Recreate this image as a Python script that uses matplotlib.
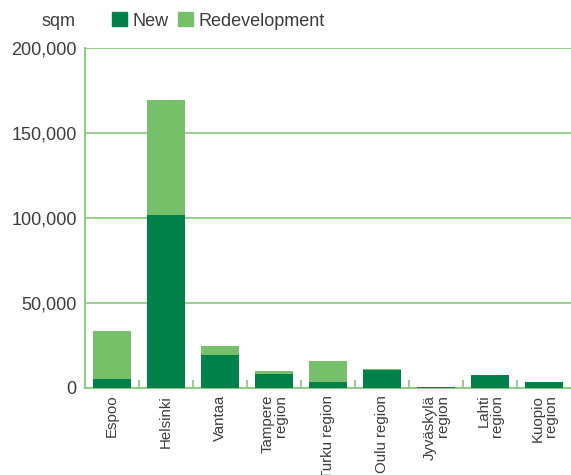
import matplotlib
matplotlib.use("Agg")
import matplotlib.pyplot as plt
from matplotlib.patches import Patch
import numpy as np

plt.rcParams['font.family'] = ['Liberation Sans', 'DejaVu Sans']

categories = ["Espoo", "Helsinki", "Vantaa", "Tampere\nregion", "Turku region",
              "Oulu region", "Jyväskylä\nregion", "Lahti\nregion", "Kuopio\nregion"]
new_sqm = [5500, 102000, 19300, 8200, 3500, 10600, 500, 7500, 3500]
redevelopment_sqm = [28200, 67500, 5400, 1800, 12400, 500, 0, 400, 0]
y_ticks = [0, 50000, 100000, 150000, 200000]

dark_green = "#00814A"
light_green = "#76C069"
grid_green = "#8FCD85"
text_color = "#3C3C3C"

fig = plt.figure(figsize=(5.71, 4.75), dpi=100)
ax = fig.add_axes([85 / 571, 1 - 388 / 475, 486 / 571, 340 / 475])

x = np.arange(len(categories))
ax.bar(x, new_sqm, width=0.72, color=dark_green, zorder=3)
ax.bar(x, redevelopment_sqm, width=0.72, bottom=new_sqm, color=light_green, zorder=3)

ax.set_xlim(-0.5, len(categories) - 0.5)
ax.set_ylim(0, 200000)
ax.set_yticks(y_ticks)
ax.set_yticklabels([f"{v:,}" for v in y_ticks], fontsize=13, color=text_color)
ax.tick_params(axis='y', length=0, pad=6)
ax.yaxis.grid(True, color=grid_green, linewidth=1.3, zorder=1)

# category boundaries as short inward ticks, labels centred under bars
ax.set_xticks(np.arange(0.5, len(categories) - 0.5, 1.0))
ax.set_xticklabels([])
ax.tick_params(axis='x', direction='in', length=6, width=1.3, color=grid_green)
for xi, label in zip(x, categories):
    ax.text(xi, -0.02, label, transform=ax.get_xaxis_transform(),
            rotation=90, ha='center', va='top', multialignment='right',
            fontsize=10.8, color=text_color, linespacing=0.92)

for side in ['top', 'right']:
    ax.spines[side].set_visible(False)
for side in ['left', 'bottom']:
    ax.spines[side].set_color(grid_green)
    ax.spines[side].set_linewidth(1.5)

fig.text(75 / 571, 1 - 21 / 475, "sqm", ha='right', va='center', fontsize=13, color=text_color)

handles = [Patch(color=dark_green, label="New"), Patch(color=light_green, label="Redevelopment")]
fig.legend(handles=handles, loc='center left', bbox_to_anchor=(105 / 571, 1 - 21 / 475),
           ncol=2, frameon=False, fontsize=13, handlelength=0.8, handleheight=0.8,
           handletextpad=0.35, columnspacing=0.5, labelcolor=text_color, borderaxespad=0)

fig.savefig("out.png", dpi=100)
